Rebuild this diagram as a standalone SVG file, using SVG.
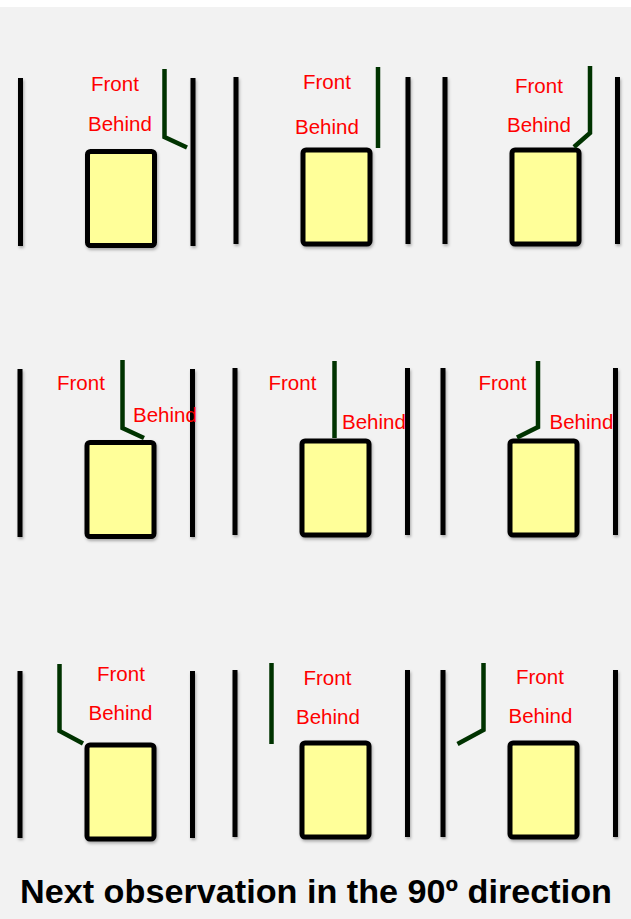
<svg xmlns="http://www.w3.org/2000/svg" width="631" height="919" viewBox="0 0 631 919">
<defs>
<filter id="sh" filterUnits="userSpaceOnUse" x="0" y="0" width="631" height="919">
<feDropShadow dx="1" dy="2" stdDeviation="1.5" flood-color="#000" flood-opacity="0.3"/>
</filter>
</defs>
<style>
.bar{stroke:#000;stroke-width:5;fill:none;filter:url(#sh)}
.box{fill:#ffff99;stroke:#000;stroke-width:5;filter:url(#sh)}
.door{stroke:#003300;stroke-width:4.5;fill:none;stroke-linejoin:miter}
.lbl{font-family:"Liberation Sans",Arial,sans-serif;font-size:20.5px;fill:#ff0000}
.title{font-family:"Liberation Sans",Arial,sans-serif;font-size:34px;font-weight:bold;fill:#000}
</style>
<rect x="0" y="0" width="631" height="919" fill="#ffffff"/>
<rect x="0" y="7" width="631" height="912" fill="#f2f2f2"/>

<g id="panel1">
<line class="bar" x1="20.5" y1="78" x2="20.5" y2="246"/>
<line class="bar" x1="193" y1="78" x2="193" y2="246"/>
<rect class="box" x="87.5" y="151.5" width="67" height="94" rx="3"/>
<text class="lbl" x="91" y="91">Front</text>
<text class="lbl" x="88" y="131">Behind</text>
</g>
<g id="panel2">
<line class="bar" x1="236" y1="77" x2="236" y2="244"/>
<line class="bar" x1="408" y1="77" x2="408" y2="244"/>
<rect class="box" x="303" y="150" width="67" height="94" rx="3"/>
<text class="lbl" x="303" y="89">Front</text>
<text class="lbl" x="295" y="134">Behind</text>
</g>
<g id="panel3">
<line class="bar" x1="445" y1="77" x2="445" y2="244"/>
<line class="bar" x1="617.5" y1="77" x2="617.5" y2="244"/>
<rect class="box" x="512" y="150" width="67" height="94" rx="3"/>
<text class="lbl" x="515" y="93">Front</text>
<text class="lbl" x="507" y="132">Behind</text>
</g>
<g id="panel4">
<line class="bar" x1="20" y1="369" x2="20" y2="537"/>
<line class="bar" x1="192.5" y1="369" x2="192.5" y2="537"/>
<rect class="box" x="87" y="442.5" width="67" height="94" rx="3"/>
<text class="lbl" x="57" y="390">Front</text>
<text class="lbl" x="133" y="422">Behind</text>
</g>
<g id="panel5">
<line class="bar" x1="235" y1="368" x2="235" y2="535"/>
<line class="bar" x1="407.5" y1="368" x2="407.5" y2="535"/>
<rect class="box" x="302" y="441" width="67" height="94" rx="3"/>
<text class="lbl" x="268.5" y="389.5">Front</text>
<text class="lbl" x="342" y="428.5">Behind</text>
</g>
<g id="panel6">
<line class="bar" x1="443" y1="368" x2="443" y2="535"/>
<line class="bar" x1="615.5" y1="368" x2="615.5" y2="535"/>
<rect class="box" x="510" y="441" width="67" height="94" rx="3"/>
<text class="lbl" x="478.5" y="389.5">Front</text>
<text class="lbl" x="549.5" y="428.5">Behind</text>
</g>
<g id="panel7">
<line class="bar" x1="20" y1="671" x2="20" y2="838"/>
<line class="bar" x1="192.5" y1="671" x2="192.5" y2="838"/>
<rect class="box" x="87" y="745" width="67" height="94" rx="3"/>
<text class="lbl" x="97" y="681">Front</text>
<text class="lbl" x="88.5" y="720">Behind</text>
</g>
<g id="panel8">
<line class="bar" x1="235" y1="670" x2="235" y2="837"/>
<line class="bar" x1="407.5" y1="670" x2="407.5" y2="837"/>
<rect class="box" x="302" y="743" width="67" height="94" rx="3"/>
<text class="lbl" x="303.5" y="685">Front</text>
<text class="lbl" x="296" y="724">Behind</text>
</g>
<g id="panel9">
<line class="bar" x1="443" y1="670" x2="443" y2="837"/>
<line class="bar" x1="615.5" y1="670" x2="615.5" y2="837"/>
<rect class="box" x="510" y="743" width="67" height="94" rx="3"/>
<text class="lbl" x="516" y="683.5">Front</text>
<text class="lbl" x="508.5" y="723">Behind</text>
</g>

<g id="connectors">
<polyline class="door" points="164.5,69 164.5,137 187,147.5"/>
<polyline class="door" points="378,67 378,148"/>
<polyline class="door" points="590,66 590,133 574,147"/>
<polyline class="door" points="122.5,360 122.5,428 144,438"/>
<polyline class="door" points="334.5,361 334.5,438"/>
<polyline class="door" points="538,361 538,427 517,437.5"/>
<polyline class="door" points="59.5,664 59.5,731 83,743.5"/>
<polyline class="door" points="271.5,663 271.5,744"/>
<polyline class="door" points="483.5,663 483.5,730 457.5,744"/>
</g>

<text class="title" x="20" y="903" textLength="592" lengthAdjust="spacingAndGlyphs">Next observation in the 90º direction</text>
</svg>
